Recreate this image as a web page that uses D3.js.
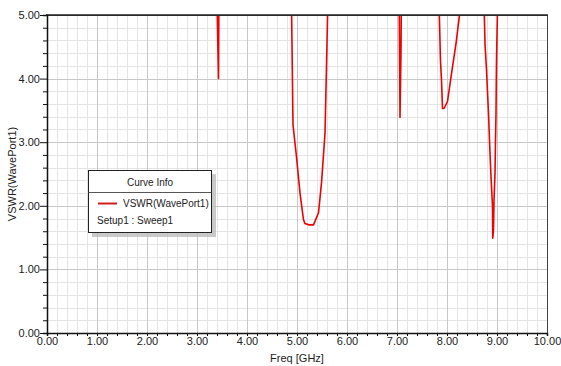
<!DOCTYPE html>
<html>
<head>
<meta charset="utf-8">
<script src="https://cdn.jsdelivr.net/npm/d3@7"></script>
<style>
  body { margin: 0; background: #fff; }
  svg { display: block; font-family: "Liberation Sans", Arial, sans-serif; }
</style>
</head>
<body>
<svg width="561" height="366"></svg>
<script>
// sweep data (values above 5 are clipped by the plot)
const freq = [3.30, 3.39, 3.43, 3.44, 3.60,
  4.80, 4.88, 4.92, 4.99, 5.06, 5.13, 5.16, 5.24, 5.33, 5.43, 5.49, 5.56, 5.59, 5.62, 5.70,
  6.95, 7.04, 7.05, 7.06, 7.08, 7.09, 7.20,
  7.80, 7.84, 7.87, 7.89, 7.91, 7.94, 8.01, 8.09, 8.18, 8.25, 8.30,
  8.70, 8.74, 8.76, 8.79, 8.83, 8.84, 8.86, 8.88, 8.91, 8.915, 8.93, 8.94, 8.96, 8.97, 8.98, 8.99, 9.01, 9.10]
const vswr = [7.0, 5.6, 4.0, 5.6, 8.0,
  8.0, 5.8, 3.27, 2.77, 2.20, 1.78, 1.72, 1.70, 1.70, 1.89, 2.36, 3.14, 4.19, 5.3, 8.0,
  8.0, 5.6, 4.5, 3.39, 4.45, 5.6, 8.0,
  8.0, 5.2, 4.27, 3.98, 3.53, 3.53, 3.64, 4.08, 4.55, 5.0, 5.6,
  8.0, 5.2, 4.55, 4.14, 3.45, 3.24, 2.83, 2.46, 1.99, 1.49, 1.62, 2.09, 2.51, 3.03, 3.45, 4.29, 5.1, 8.0]
const xTicks = [0, 1, 2, 3, 4, 5, 6, 7, 8, 9, 10]
const yTicks = [0, 1, 2, 3, 4, 5]
const seriesName = "VSWR(WavePort1)"
const sweepName = "Setup1 : Sweep1"

const W = 561, H = 366
const m = { left: 47, right: 14, top: 15, bottom: 33 }
const svg = d3.select("svg")

const x = d3.scaleLinear().domain([0, 10]).range([m.left, W - m.right])
const y = d3.scaleLinear().domain([0, 5]).range([H - m.bottom, m.top])

// grid: minor every 0.2, major every 1
const minorX = d3.range(0, 10.001, 0.2), minorY = d3.range(0, 5.001, 0.2)
const grid = svg.append("g")
grid.selectAll(".mx").data(minorX).enter().append("line")
  .attr("x1", d => Math.round(x(d)) + 0.5).attr("x2", d => Math.round(x(d)) + 0.5)
  .attr("y1", y(0)).attr("y2", y(5))
  .attr("stroke", "#e4e4e4")
grid.selectAll(".my").data(minorY).enter().append("line")
  .attr("y1", d => Math.round(y(d)) + 0.5).attr("y2", d => Math.round(y(d)) + 0.5)
  .attr("x1", x(0)).attr("x2", x(10))
  .attr("stroke", "#e4e4e4")
grid.selectAll(".Mx").data(xTicks).enter().append("line")
  .attr("x1", d => Math.round(x(d)) + 0.5).attr("x2", d => Math.round(x(d)) + 0.5)
  .attr("y1", y(0)).attr("y2", y(5))
  .attr("stroke", "#c8c8c8")
grid.selectAll(".My").data(yTicks).enter().append("line")
  .attr("y1", d => Math.round(y(d)) + 0.5).attr("y2", d => Math.round(y(d)) + 0.5)
  .attr("x1", x(0)).attr("x2", x(10))
  .attr("stroke", "#c8c8c8")

// curve, clipped to the plot area
svg.append("clipPath").attr("id", "clip").append("rect")
  .attr("x", x(0)).attr("y", y(5)).attr("width", x(10) - x(0)).attr("height", y(0) - y(5))
const line = d3.line().x((d, i) => x(freq[i])).y(d => y(d))
svg.append("path")
  .attr("clip-path", "url(#clip)")
  .attr("d", line(vswr))
  .attr("fill", "none")
  .attr("stroke", "#f00000")
  .attr("stroke-width", 1.6)
  .attr("stroke-linejoin", "round")

// frame
svg.append("rect")
  .attr("x", x(0) + 0.5).attr("y", y(5) + 0.5)
  .attr("width", x(10) - x(0)).attr("height", y(0) - y(5))
  .attr("fill", "none").attr("stroke", "#444").attr("stroke-width", 1)
svg.append("line").attr("x1", x(0) - 1).attr("x2", x(10) + 1).attr("y1", y(5)).attr("y2", y(5))
  .attr("stroke", "#222").attr("stroke-width", 1.5)

// axes
const xAxis = d3.axisBottom(x).tickValues(minorX).tickSize(3)
  .tickFormat(d => xTicks.some(t => Math.abs(t - d) < 1e-6) ? d3.format(".2f")(d) : "")
const gx = svg.append("g").attr("transform", `translate(0,${y(0)})`).call(xAxis)
gx.select(".domain").attr("stroke", "#111").attr("stroke-width", 1.5)
gx.selectAll(".tick line").attr("stroke", "#111")
gx.selectAll("text").attr("font-size", 11).attr("fill", "#222").attr("dy", "0.55em")

const yAxis = d3.axisLeft(y).tickValues(minorY).tickSize(4)
  .tickFormat(d => yTicks.some(t => Math.abs(t - d) < 1e-6) ? d3.format(".2f")(d) : "")
const gy = svg.append("g").attr("transform", `translate(${x(0)},0)`).call(yAxis)
gy.select(".domain").attr("stroke", "#111").attr("stroke-width", 1.5)
gy.selectAll(".tick line").attr("stroke", "#111")
gy.selectAll(".tick").filter(d => yTicks.some(t => Math.abs(t - d) < 1e-6))
  .select("line").attr("x2", -7)
gy.selectAll("text").attr("font-size", 11).attr("fill", "#222").attr("x", -7)

// axis titles
svg.append("text")
  .attr("x", (x(0) + x(10)) / 2).attr("y", 362)
  .attr("text-anchor", "middle").attr("font-size", 11).attr("fill", "#222")
  .text("Freq [GHz]")
svg.append("text")
  .attr("transform", `translate(16,${(y(0) + y(5)) / 2}) rotate(-90)`)
  .attr("text-anchor", "middle").attr("font-size", 11).attr("fill", "#222")
  .text(seriesName)

// legend box
const lg = svg.append("g").attr("transform", "translate(88,170)")
lg.append("rect").attr("x", 4).attr("y", 4).attr("width", 124).attr("height", 63)
  .attr("fill", "#bdbdbd").attr("opacity", 0.8)
lg.append("rect").attr("x", 0.5).attr("y", 0.5).attr("width", 123).attr("height", 62)
  .attr("fill", "#fff").attr("stroke", "#222")
lg.append("line").attr("x1", 0.5).attr("x2", 123.5).attr("y1", 22.5).attr("y2", 22.5).attr("stroke", "#555")
lg.append("text").attr("x", 62).attr("y", 16).attr("text-anchor", "middle")
  .attr("font-size", 10).attr("fill", "#222").text("Curve Info")
lg.append("line").attr("x1", 10).attr("x2", 29).attr("y1", 33.5).attr("y2", 33.5)
  .attr("stroke", "#cc1f1f").attr("stroke-width", 2)
lg.append("text").attr("x", 35).attr("y", 37).attr("font-size", 10).attr("fill", "#222").text(seriesName)
lg.append("text").attr("x", 9).attr("y", 54).attr("font-size", 10).attr("fill", "#222").text(sweepName)
</script>
</body>
</html>
